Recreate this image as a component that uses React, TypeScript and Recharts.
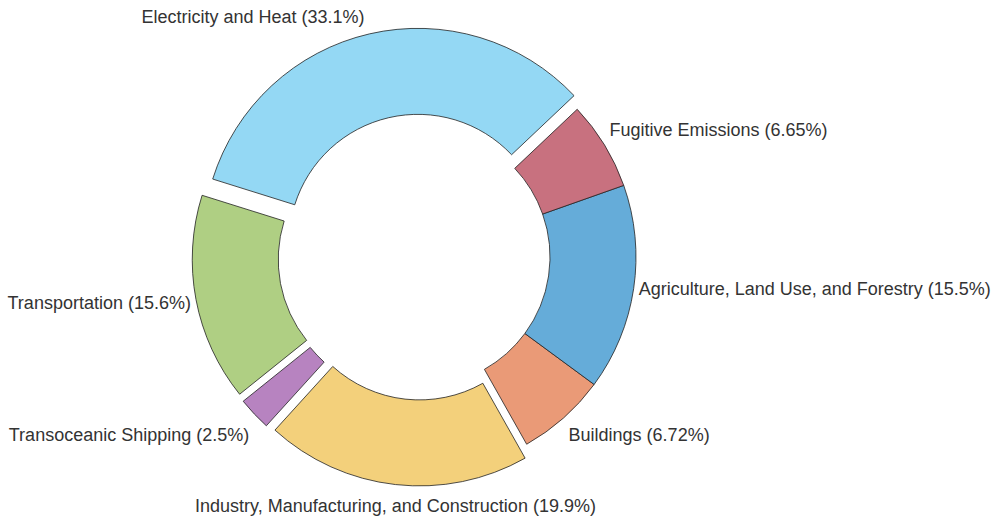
import React from 'react';
import { PieChart, Pie, Cell, Sector } from 'recharts';

const categories = [
  'Electricity and Heat',
  'Transportation',
  'Transoceanic Shipping',
  'Industry, Manufacturing, and Construction',
  'Buildings',
  'Agriculture, Land Use, and Forestry',
  'Fugitive Emissions',
];
const shares = [33.1, 15.6, 2.5, 19.9, 6.72, 15.5, 6.65];
const explodedCategories = [
  'Electricity and Heat',
  'Transportation',
  'Transoceanic Shipping',
  'Industry, Manufacturing, and Construction',
];
const colors = ['#94D8F4', '#AFCF83', '#B783C0', '#F3D07B', '#EA9A77', '#65ACD9', '#C8717F'];

const data = categories.map((name, i) => ({
  name,
  value: shares[i],
  explode: explodedCategories.includes(name),
}));

const EXPLODE = 14;
const RAD = Math.PI / 180;

function isExploded(props: any): boolean {
  if (props.payload && typeof props.payload.explode === 'boolean') return props.payload.explode;
  return !!props.explode;
}

function ExplodedSector(props: any) {
  const { cx, cy, midAngle } = props;
  const off = isExploded(props) ? EXPLODE : 0;
  const dx = off * Math.cos(-midAngle * RAD);
  const dy = off * Math.sin(-midAngle * RAD);
  return <Sector {...props} cx={cx + dx} cy={cy + dy} />;
}

function renderLabel(props: any) {
  const { cx, cy, midAngle, outerRadius } = props;
  const name = props.name ?? props.payload?.name;
  const value = props.value ?? props.payload?.value;
  const exploded = isExploded(props);
  const exp = exploded ? EXPLODE : 0;
  const r = outerRadius + exp;
  const c = Math.cos(-midAngle * RAD);
  const s = Math.sin(-midAngle * RAD);
  let x = cx + r * c;
  let y = cy + r * s;
  let anchor: 'start' | 'middle' | 'end' = 'middle';
  if (c > 0.15) {
    anchor = 'start';
    x += 5;
  } else if (c < -0.15) {
    anchor = 'end';
    x -= 5;
  }
  if (s < -0.3) y -= exploded ? 17 : 15;
  else if (s > 0.3) y += exploded ? 21 : 17;
  else if (exploded) y += 4;
  return (
    <text
      x={x}
      y={y}
      textAnchor={anchor}
      dominantBaseline="central"
      fill="#333333"
      fontSize={18}
      fontFamily="'Liberation Sans', Arial, Helvetica, sans-serif"
    >
      {`${name} (${value}%)`}
    </text>
  );
}

export default function App() {
  return (
    <div style={{ position: 'absolute', left: 0, top: 0, width: 994, height: 519, background: '#ffffff' }}>
      <PieChart width={994} height={519} margin={{ top: 0, right: 0, bottom: 0, left: 0 }}>
        <Pie
          data={data}
          dataKey="value"
          nameKey="name"
          cx={421}
          cy={257}
          innerRadius={129}
          outerRadius={215}
          startAngle={43.4}
          endAngle={403.4}
          stroke="#222222"
          strokeWidth={0.8}
          isAnimationActive={false}
          labelLine={false}
          label={renderLabel}
          shape={ExplodedSector}
        >
          {data.map((d, i) => (
            <Cell key={d.name} fill={colors[i]} />
          ))}
        </Pie>
      </PieChart>
    </div>
  );
}
